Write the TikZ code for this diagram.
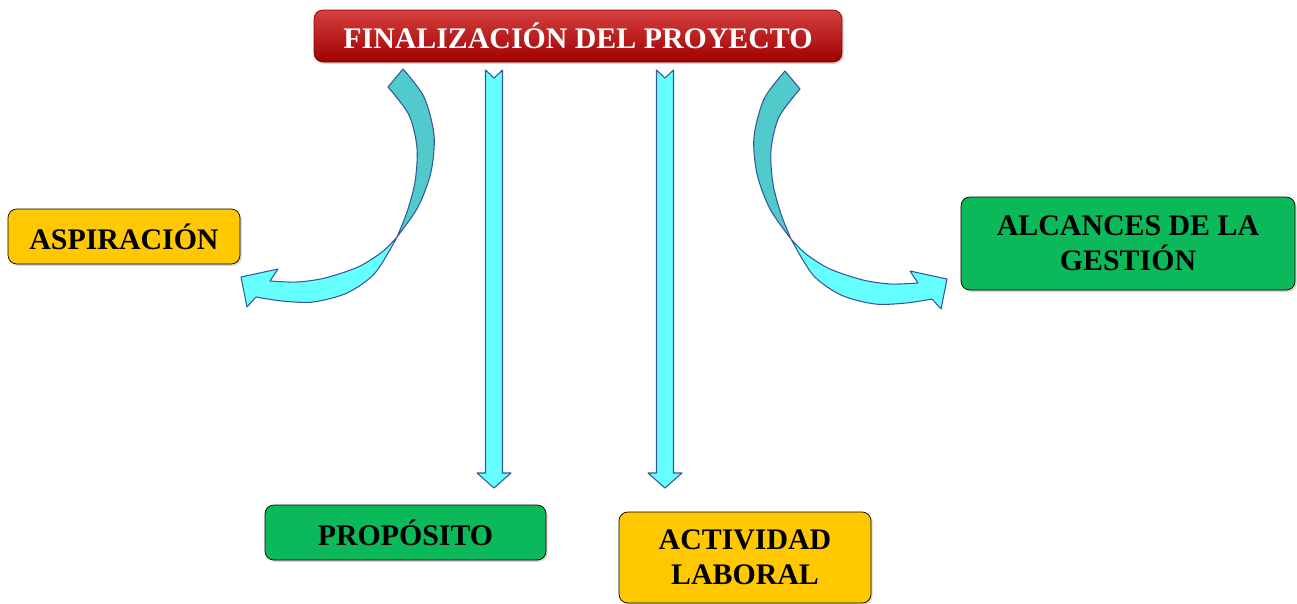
\documentclass[tikz,border=0pt]{standalone}
\usepackage{fontspec}
\setmainfont{Liberation Serif}
\usetikzlibrary{positioning,shadows}
\definecolor{titlered}{RGB}{200,0,0}
\definecolor{boxyellow}{RGB}{255,200,0}
\definecolor{boxgreen}{RGB}{12,185,90}
\definecolor{bandteal}{RGB}{80,202,202}
\definecolor{bandcyan}{RGB}{102,255,255}
\definecolor{arrowedge}{RGB}{55,85,155}
\tikzset{
	box/.style={draw=black, thin, rounded corners=5pt, align=center, inner sep=0pt,
		font=\bfseries\fontsize{17}{20}\selectfont,
		drop shadow={opacity=0.35, shadow xshift=1pt, shadow yshift=-1pt}},
	yellowbox/.style={box, fill=boxyellow},
	greenbox/.style={box, fill=boxgreen},
	band/.style={draw=arrowedge, line width=0.6pt, line join=round},
	pics/downarrow/.style={code={
		\draw[band, fill=bandcyan] (-8.5,0) -- (0,8) -- (8.5,0) -- (8.5,#1-15) -- (17,#1-15)
			-- (0,#1) -- (-17,#1-15) -- (-8.5,#1-15) -- cycle;
	}},
	pics/bentarrow/.style={code={
		\draw[band, fill=bandteal] (388,87) -- (403,69)
			-- plot[smooth] coordinates {(403,69) (424,97) (434,135) (431,172) (418,207) (397,237)}
			-- plot[smooth] coordinates {(397,237) (407,212) (415,182) (417,148) (409,115) (388,87)} -- cycle;
		\draw[band, fill=bandcyan] (397,237)
			-- plot[smooth] coordinates {(397,237) (382,252) (358,267) (325,278) (297,282) (270,281)}
			-- (278,269) -- (241,277) -- (247,307) -- (256,297)
			-- plot[smooth] coordinates {(256,297) (282,301) (313,302) (347,293) (375,273) (397,237)} -- cycle;
	}}
}
\begin{document}
\begin{tikzpicture}[x=0.02cm, y=-0.02cm]
	\useasboundingbox (0,0) rectangle (1297,603);
	\node[box, draw=titlered!70!black, top color=titlered!75!white, middle color=titlered, bottom color=titlered!80!black,
		minimum width=10.56cm, minimum height=1.04cm, text=white, font=\bfseries\fontsize{17}{20}\selectfont]
		(final) at (578,36) {FINALIZACIÓN DEL PROYECTO};
	\node[yellowbox, minimum width=4.64cm, minimum height=1.1cm] (aspir) at (124,236.5) {ASPIRACIÓN};
	\node[greenbox, minimum width=6.68cm, minimum height=1.86cm] (alcan) at (1128,243.5) {ALCANCES DE LA\\GESTIÓN};
	\node[greenbox, minimum width=5.62cm, minimum height=1.1cm] (propo) at (405.5,532.5) {PROPÓSITO};
	\node[yellowbox, minimum width=5.04cm, minimum height=1.82cm] (activ) at (745,557.5) {ACTIVIDAD\\LABORAL};
	% flechas
	\pic at (494,70) {downarrow=418};
	\pic at (665,70) {downarrow=418};
	\pic at (0,0) {bentarrow};
	\pic[xscale=-1] at (1188,2) {bentarrow};
\end{tikzpicture}
\end{document}
